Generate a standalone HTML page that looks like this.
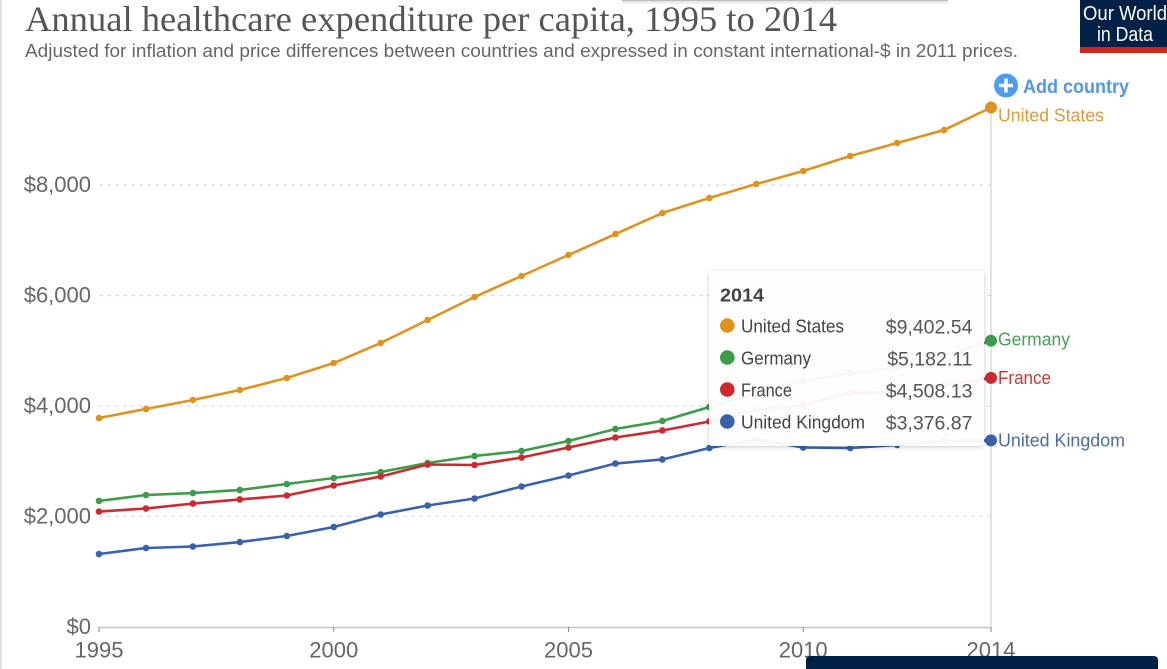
<!DOCTYPE html>
<html lang="en">
<head>
<meta charset="utf-8">
<title>Annual healthcare expenditure per capita, 1995 to 2014</title>
<style>
html,body{margin:0;padding:0;background:#fff;width:1167px;height:669px;overflow:hidden}
svg{display:block;position:absolute;left:0;top:0}
text{font-family:"Liberation Sans",sans-serif}
.serif{font-family:"Liberation Serif",serif}
</style>
</head>
<body>
<svg id="chart" width="1167" height="669" viewBox="0 0 1167 669" xmlns="http://www.w3.org/2000/svg">
  <rect x="0" y="0" width="2" height="669" fill="#e2e2e2"/>
  <rect x="622" y="0" width="326" height="1" fill="#bdbdbd" style="filter:drop-shadow(0 1px 1.5px rgba(0,0,0,.4))"/>
  <text class="serif" x="25" y="31" font-size="36" fill="#555" textLength="812" lengthAdjust="spacingAndGlyphs">Annual healthcare expenditure per capita, 1995 to 2014</text>
  <text x="25" y="57" font-size="18" fill="#666" textLength="993" lengthAdjust="spacingAndGlyphs">Adjusted for inflation and price differences between countries and expressed in constant international-$ in 2011 prices.</text>

  <g>
    <rect x="1080" y="0" width="87" height="47" fill="#002147"/>
    <rect x="1080" y="47" width="87" height="6" fill="#ce261e"/>
    <text x="1083" y="20" font-size="20" fill="#fff" textLength="84" lengthAdjust="spacingAndGlyphs">Our World</text>
    <text x="1097" y="41" font-size="20" fill="#fff" textLength="56" lengthAdjust="spacingAndGlyphs">in Data</text>
  </g>

  <g>
    <circle cx="1006" cy="85.5" r="12" fill="#4c9df0"/>
    <rect x="999" y="83.8" width="14" height="3.4" fill="#fff"/>
    <rect x="1004.3" y="78.5" width="3.4" height="14" fill="#fff"/>
    <text x="1023" y="93" font-size="19" font-weight="bold" fill="#5196e8" textLength="106" lengthAdjust="spacingAndGlyphs">Add country</text>
  </g>

  <g id="grid"></g>
  <g id="axes"></g>
  <g id="series"></g>
  <g id="endLabels"></g>
  <rect x="709" y="271" width="275" height="175" rx="3" fill="#fff" fill-opacity="0.95" style="filter:drop-shadow(0 1px 2.5px rgba(0,0,0,.22))"/>
  <g id="tooltip"></g>
  <rect x="806" y="656" width="352" height="20" rx="4" fill="#002147"/>
</svg>
<script>
var years = [1995,1996,1997,1998,1999,2000,2001,2002,2003,2004,2005,2006,2007,2008,2009,2010,2011,2012,2013,2014];
var unitedStates = [3783,3946,4109,4290,4507,4778,5140,5557,5973,6353,6733,7113,7493,7765,8018,8253,8525,8760,8995,9402.54];
var germany = [2281,2389,2425,2480,2588,2697,2805,2968,3095,3186,3367,3584,3729,3982,4235,4452,4597,4688,4905,5182.11];
var france = [2090,2145,2235,2308,2380,2561,2724,2941,2932,3068,3249,3430,3557,3720,3927,4018,4235,4253,4380,4508.13];
var unitedKingdom = [1321,1430,1457,1538,1647,1810,2036,2199,2326,2543,2742,2959,3032,3240,3394,3249,3240,3294,3367,3376.87];
var seriesNames = ["United States","Germany","France","United Kingdom"];
var yTickValues = [0,2000,4000,6000,8000];
var xTickValues = [1995,2000,2005,2010,2014];

var svgNS = "http://www.w3.org/2000/svg";
function xScale(v){ return 99 + (v - 1995) * (991 - 99) / (2014 - 1995); }
function yScale(v){ return 627 - v * 0.05525; }
function money(v, d){
  return "$" + v.toLocaleString("en-US", {minimumFractionDigits:d, maximumFractionDigits:d});
}
function make(tag, parent){
  var e = document.createElementNS(svgNS, tag);
  parent.appendChild(e);
  return e;
}
function put(e, props){
  for (var k in props) e.setAttribute(k, props[k]);
}

var seriesValues = [unitedStates, germany, france, unitedKingdom];
var seriesColors = ["#e0931c","#3c9c48","#cc2a2e","#3862ac"];
var labelColors = ["#dc9a3e","#4a9e58","#c8383c","#4a6ca8"];
var labelWidths = [106,72,53,127];
var labelDy = [8,-1,0,0];

var grid = document.getElementById("grid");
var axes = document.getElementById("axes");
yTickValues.forEach(function(t){
  var y = yScale(t);
  if (t > 0) {
    var g = make("line", grid);
    put(g, {x1:99, x2:991, y1:y, y2:y, stroke:"#dddddd", "stroke-width":1.3, "stroke-dasharray":"4 4"});
    
    
  }
  var l = make("text", axes);
  put(l, {x:91, y:y + 7, "font-size":22, fill:"#666", "text-anchor":"end"});
  l.textContent = money(t, 0);
  
  
});

var vline = make("line", axes);
put(vline, {x1:991, x2:991, y1:yScale(unitedStates[19]), y2:627, stroke:"#dcdcdc", "stroke-width":1.5});



var axisLine = make("line", axes);
put(axisLine, {x1:99, x2:991, y1:627.5, y2:627.5, stroke:"#c4c4c4", "stroke-width":1.5});



xTickValues.forEach(function(t){
  var x = xScale(t);
  var m = make("line", axes);
  put(m, {x1:x, x2:x, y1:627, y2:632, stroke:"#888", "stroke-width":1});
  
  
  var l = make("text", axes);
  put(l, {x:x, y:657.5, "font-size":22, fill:"#666", "text-anchor":"middle"});
  l.textContent = String(t);
  
  
});

var seriesLayer = document.getElementById("series");
var labelLayer = document.getElementById("endLabels");
var tooltipLayer = document.getElementById("tooltip");

seriesValues.forEach(function(vals, i){
  var color = seriesColors[i];
  var pts = vals.map(function(v, j){ return xScale(years[j]).toFixed(2) + "," + yScale(v).toFixed(2); }).join(" ");
  var line = make("polyline", seriesLayer);
  put(line, {points:pts, fill:"none", stroke:color, "stroke-width":2.6, "stroke-linejoin":"round"});
  
  
  vals.forEach(function(v, j){
    var last = j === vals.length - 1;
    var dot = make("circle", seriesLayer);
    put(dot, {cx:xScale(years[j]), cy:yScale(v), r:last ? 6 : 3.3, fill:color});
    
    
  });
  var lastV = vals[vals.length - 1];
  var lab = make("text", labelLayer);
  put(lab, {x:998, y:yScale(lastV) + 6 + labelDy[i], "font-size":18.5, fill:labelColors[i], textLength:labelWidths[i], lengthAdjust:"spacingAndGlyphs"});
  lab.textContent = seriesNames[i];
  
  
});

var ttTitle = make("text", tooltipLayer);
put(ttTitle, {x:720, y:301.5, "font-size":18.5, "font-weight":"bold", fill:"#444", textLength:44, lengthAdjust:"spacingAndGlyphs"});
ttTitle.textContent = String(years[years.length - 1]);



var ttNameWidths = [103,70,51,124];
seriesValues.forEach(function(vals, i){
  var y = 326 + i * 32;
  var swatch = make("circle", tooltipLayer);
  put(swatch, {cx:727.3, cy:y - 0.5, r:7.3, fill:seriesColors[i]});
  
  
  var name = make("text", tooltipLayer);
  put(name, {x:741, y:y + 6.5, "font-size":18, fill:"#444", textLength:ttNameWidths[i], lengthAdjust:"spacingAndGlyphs"});
  name.textContent = seriesNames[i];
  
  
  var val = make("text", tooltipLayer);
  put(val, {x:972.5, y:y + 7.5, "font-size":19.5, fill:"#555", "text-anchor":"end"});
  val.textContent = money(vals[vals.length - 1], 2);
  
  
});
</script>
</body>
</html>
